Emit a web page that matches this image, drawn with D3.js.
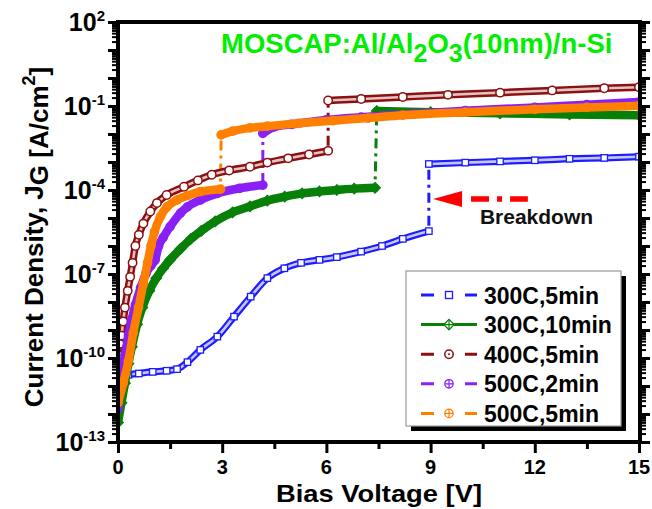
<!DOCTYPE html>
<html><head><meta charset="utf-8">
<script src="https://cdn.jsdelivr.net/npm/d3@7"></script>
<style>
body{margin:0;background:#fff}
svg{display:block}
text{font-family:"Liberation Sans",Arial,Helvetica,sans-serif;font-weight:bold}
</style></head>
<body><svg id="c" width="652" height="509"></svg>
<script>
// ---------- data ----------
const seriesNames = ["300C,5min","300C,10min","400C,5min","500C,2min","500C,5min"];
const seriesColors = ["#1c1cff","#088008","#8b1010","#8a20f5","#ff8000"];
const seriesSymbols = ["square","diamondCross","circle","circleCross","circleCross"];
const seriesDashed = [true,false,true,true,true];

const v_300C_5min = [0.02,0.1,0.3,0.6,1.0,1.4,1.7,2.0,2.37,2.86,3.34,3.82,4.3,4.79,5.27,5.8,6.3,7.0,7.6,8.2,8.95, 8.95,10,11,12,13,14,15];
const j_300C_5min = [1.0e-11,1.8e-11,2.5e-11,2.8e-11,3.2e-11,3.5e-11,4.0e-11,7.1e-11,1.95e-10,5.8e-10,3.0e-9,1.55e-8,7.1e-8,1.6e-7,2.5e-7,3.2e-7,4.0e-7,6.3e-7,1.0e-6,1.8e-6,3.4e-6, 8.5e-4,9.5e-4,1.05e-3,1.15e-3,1.3e-3,1.4e-3,1.55e-3];

const v_300C_10min = [0.0,0.1,0.2,0.3,0.4,0.55,0.7,0.9,1.1,1.3,1.5,1.8,2.1,2.4,2.8,3.3,3.8,4.3,4.8,5.3,5.8,6.3,6.8,7.4, 7.45,9,11,13,15];
const j_300C_10min = [5.0e-13,2.5e-12,1.26e-11,6.3e-11,2.5e-10,1.6e-9,6.3e-9,2.5e-8,7.1e-8,1.6e-7,3.2e-7,7.9e-7,1.8e-6,3.5e-6,7.6e-6,1.6e-5,2.6e-5,4.2e-5,5.8e-5,7.6e-5,8.9e-5,1.0e-4,1.12e-4,1.2e-4, 6.6e-2,6.0e-2,5.5e-2,5.0e-2,4.7e-2];

const v_400C_5min = [0.0,0.05,0.1,0.15,0.2,0.28,0.35,0.42,0.5,0.6,0.73,0.93,1.12,1.4,1.9,2.3,2.7,3.2,3.8,4.3,4.9,5.5,6.05, 6.05,7,8.2,9.5,11,12.5,14,15];
const j_400C_5min = [1.26e-10,3.2e-10,6.3e-10,2.0e-9,6.3e-9,2.5e-8,7.9e-8,2.5e-7,1.0e-6,2.5e-6,6.3e-6,1.7e-5,3.4e-5,6.6e-5,1.3e-4,2.2e-4,3.5e-4,5.0e-4,6.8e-4,9.5e-4,1.35e-3,1.86e-3,2.5e-3, 0.158,0.178,0.21,0.25,0.30,0.36,0.43,0.47];

const v_500C_2min = [0.0,0.05,0.1,0.2,0.3,0.4,0.5,0.65,0.8,0.95,1.07,1.17,1.3,1.5,1.8,2.0,2.37,2.86,3.5,4.17, 4.17,4.5,5,6,7,8.5,10,12,13.5,15];
const j_500C_2min = [1.6e-12,6.3e-12,2.5e-11,1.26e-10,6.3e-10,2.5e-9,7.9e-9,3.2e-8,1.0e-7,2.0e-7,3.2e-7,1.0e-6,2.0e-6,4.9e-6,1.5e-5,2.5e-5,4.4e-5,7.6e-5,1.15e-4,1.5e-4, 1.05e-2,1.8e-2,2.2e-2,3.2e-2,4.0e-2,5.2e-2,6.8e-2,8.9e-2,0.112,0.138];

const v_500C_5min = [0.0,0.15,0.3,0.44,0.59,0.73,0.85,0.95,1.05,1.22,1.41,1.7,2.0,2.37,2.95, 2.97,3.3,3.8,4.3,5.2,6.2,7.2,8.2,10,12,13.5,15];
const j_500C_5min = [2.5e-12,1.26e-11,7.9e-11,7.9e-10,6.3e-9,4.5e-8,2.5e-7,1.0e-6,3.2e-6,1.12e-5,2.5e-5,4.4e-5,6.3e-5,8.7e-5,1.07e-4, 9.3e-3,1.26e-2,1.66e-2,1.9e-2,2.4e-2,3.0e-2,3.7e-2,4.7e-2,6.0e-2,7.6e-2,8.9e-2,0.102];

const seriesV = [v_300C_5min,v_300C_10min,v_400C_5min,v_500C_2min,v_500C_5min];
const seriesJ = [j_300C_5min,j_300C_10min,j_400C_5min,j_500C_2min,j_500C_5min];

const xTickValues = [0,3,6,9,12,15];
const xMinorTickValues = [1.5,4.5,7.5,10.5,13.5];
const yLabelExponents = [2,-1,-4,-7,-10,-13];
const titleParts = ["MOSCAP:Al/Al","2","O","3","(10nm)/n-Si"];
const annotationText = "Breakdown";
const annotationArrow = {v1:9.07, v2:11.8, j:4.8e-5};
const annotationLabel = {v:10.42, j:6.2e-6};

// ---------- scales ----------
const x = d3.scaleLinear().domain([0,15]).range([118,639]);
const y = d3.scaleLog().domain([1e-13,1e2]).range([442,22]);
const svg = d3.select("#c");

svg.append("defs").append("clipPath").attr("id","plotclip")
  .append("rect").attr("x",x(0)).attr("y",y(1e2)).attr("width",x(15)-x(0)).attr("height",y(1e-13)-y(1e2));

// ---------- title ----------
const tt = svg.append("text").attr("x",221).attr("y",53).attr("fill","#00ee00").style("font-size","27.5px");
tt.append("tspan").text(titleParts[0]);
tt.append("tspan").attr("dy",9).style("font-size","25px").text(titleParts[1]);
tt.append("tspan").attr("dy",-9).text(titleParts[2]);
tt.append("tspan").attr("dy",9).style("font-size","25px").text(titleParts[3]);
tt.append("tspan").attr("dy",-9).text(titleParts[4]);

// ---------- series ----------
const plot = svg.append("g").attr("clip-path","url(#plotclip)");
const data = seriesV.map((vs,i)=>vs.map((v,k)=>({v:v,j:seriesJ[i][k]})));
function segments(pts){
  const segs=[[pts[0]]];
  for(let k=1;k<pts.length;k++){
    if(Math.abs(Math.log10(pts[k].j/pts[k-1].j))>1 && pts[k].v-pts[k-1].v<0.1) segs.push([]);
    segs[segs.length-1].push(pts[k]);
  }
  return segs;
}
const thinLine = d3.line().x(d=>x(d.v)).y(d=>y(d.j));
const bandLine = d3.line().x(d=>x(d.v)).y(d=>y(d.j)).curve(d3.curveMonotoneX);

function drawMarker(g,type,cx,cy,color,s,fill){
  const r=s;
  if(type==="square"){
    g.append("rect").attr("x",cx-r).attr("y",cy-r).attr("width",2*r).attr("height",2*r)
     .attr("fill",fill).attr("stroke",color).attr("stroke-width",1.3);
  } else if(type==="circle"){
    g.append("circle").attr("cx",cx).attr("cy",cy).attr("r",r).attr("fill",fill).attr("stroke",color).attr("stroke-width",1.5);
  } else if(type==="circleCross"){
    g.append("circle").attr("cx",cx).attr("cy",cy).attr("r",r).attr("fill",fill).attr("stroke",color).attr("stroke-width",1.3);
    g.append("path").attr("d",`M${cx-r},${cy}H${cx+r}M${cx},${cy-r}V${cy+r}`).attr("stroke",color).attr("stroke-width",1.2);
  } else if(type==="diamondCross"){
    g.append("path").attr("d",`M${cx},${cy-r-1}L${cx+r+1},${cy}L${cx},${cy+r+1}L${cx-r-1},${cy}Z`).attr("fill",fill).attr("stroke",color).attr("stroke-width",1.3);
    g.append("path").attr("d",`M${cx-r-1},${cy}H${cx+r+1}M${cx},${cy-r-1}V${cy+r+1}`).attr("stroke",color).attr("stroke-width",1.2);
  }
}

data.forEach((pts,i)=>{
  plot.append("path").attr("d",thinLine(pts)).attr("fill","none")
    .attr("stroke",seriesColors[i]).attr("stroke-width",3).attr("stroke-dasharray","10,5,3,5");
});
const bandWidths=[7,8.5,7.5,8.5,8.5];
[0,1,2,3,4].forEach(i=>{
  const pts=data[i], col=seriesColors[i];
  const g=plot.append("g");
  segments(pts).forEach(seg=>{
    if(seg.length<2) return;
    g.append("path").attr("d",bandLine(seg)).attr("fill","none").attr("stroke",col)
      .attr("stroke-width",bandWidths[i]).attr("stroke-linecap","round").attr("stroke-linejoin","round");
    if(i===0||i===2){
      g.append("path").attr("d",bandLine(seg)).attr("fill","none").attr("stroke","#fff")
        .attr("stroke-opacity",0.75).attr("stroke-width",2.6);
    }
  });
  const hollow=(i===0||i===2);
  pts.forEach(p=>drawMarker(g,seriesSymbols[i],x(p.v),y(p.j),col,i===0?3.2:4.2,hollow?"#fff":"none"));
});

// ---------- axes ----------
const axG = svg.append("g");
function styleAxis(sel){
  sel.select(".domain").remove();
  sel.selectAll(".tick line").attr("stroke","#000").attr("stroke-width",3);
  sel.selectAll(".tick text").remove();
}
axG.append("g").attr("transform",`translate(0,${y(1e-13)})`)
  .call(d3.axisBottom(x).tickValues(xTickValues).tickSize(11)).call(styleAxis);
axG.append("g").attr("transform",`translate(0,${y(1e-13)})`)
  .call(d3.axisBottom(x).tickValues(xMinorTickValues).tickSize(7)).call(styleAxis);
axG.selectAll(".xl").data(xTickValues).enter().append("text").attr("class","xl")
  .attr("x",d=>x(d)).attr("y",474).attr("text-anchor","middle").style("font-size","20px").text(d=>d);

const majorY=d3.range(-13,3).map(e=>Math.pow(10,e));
const minorY=[];
d3.range(-13,2).forEach(e=>{for(let k=2;k<=9;k++) minorY.push(k*Math.pow(10,e));});
[["L",x(0)],["R",x(15)+1]].forEach(([side,px])=>{
  const mk=(side==="L")?d3.axisLeft:d3.axisRight;
  axG.append("g").attr("transform",`translate(${px},0)`).call(mk(y).tickValues(majorY).tickSize(10)).call(styleAxis);
  axG.append("g").attr("transform",`translate(${px},0)`).call(mk(y).tickValues(minorY).tickSize(6)).call(styleAxis)
    .selectAll(".tick line").attr("stroke-width",2);
});
yLabelExponents.forEach(e=>{
  const t=axG.append("text").attr("x",105).attr("y",y(Math.pow(10,e))+9).attr("text-anchor","end").style("font-size","25px");
  t.append("tspan").text("10");
  t.append("tspan").attr("dy",-10).style("font-size","15px").text(String(e));
});

const fr=axG.append("g").attr("stroke","#000").attr("stroke-width",4).attr("fill","none");
fr.append("path").attr("d",`M${x(0)},${y(1e2)}V${y(1e-13)}H${x(15)+1}V${y(1e2)}Z`).attr("stroke-linejoin","miter");

// axis titles
svg.append("text").attr("x",379).attr("y",502).attr("text-anchor","middle").style("font-size","24px")
  .attr("textLength",206).attr("lengthAdjust","spacingAndGlyphs").text("Bias Voltage [V]");
const yl=svg.append("text").attr("transform","translate(43,237) rotate(-90)").attr("text-anchor","middle").style("font-size","26px");
yl.append("tspan").text("Current Density, J");
yl.append("tspan").attr("dy",5).text("G");
yl.append("tspan").text(" [A/cm");
yl.append("tspan").attr("dy",-13).style("font-size","18px").text("2");
yl.append("tspan").attr("dy",13).text("]");

// ---------- annotation ----------
const ay=y(annotationArrow.j);
svg.append("line").attr("x1",x(annotationArrow.v1)+38).attr("x2",x(annotationArrow.v2)).attr("y1",ay).attr("y2",ay)
  .attr("stroke","#ff0000").attr("stroke-width",5.5).attr("stroke-dasharray","18,8,5,8,20");
const tx=x(annotationArrow.v1);
svg.append("path").attr("d",`M${tx},${ay}L${tx+29},${ay-8}L${tx+29},${ay+8}Z`).attr("fill","#ff0000");
svg.append("text").attr("x",x(annotationLabel.v)).attr("y",y(annotationLabel.j)).style("font-size","21px").attr("fill","#111").text(annotationText);

// ---------- legend ----------
const lg=svg.append("g");
lg.append("rect").attr("x",411).attr("y",276).attr("width",215).attr("height",155).attr("fill","#000");
lg.append("rect").attr("x",406).attr("y",271).attr("width",215).attr("height",155).attr("fill","#fff").attr("stroke","#999").attr("stroke-width",1.2);
seriesNames.forEach((n,i)=>{
  const cy=295+i*29.6;
  const col=seriesColors[i];
  lg.append("line").attr("x1",421).attr("x2",477).attr("y1",cy).attr("y2",cy).attr("stroke",col).attr("stroke-width",3)
    .attr("stroke-dasharray",seriesDashed[i]?"13,31,13":null);
  drawMarker(lg,seriesSymbols[i],449,cy,col,i===0?3.5:4.2,"#fff");
  if(i===2) lg.append("circle").attr("cx",449).attr("cy",cy).attr("r",1).attr("fill",col);
  lg.append("text").attr("x",484).attr("y",cy+8.5).style("font-size","23px").text(n);
});
</script></body></html>
